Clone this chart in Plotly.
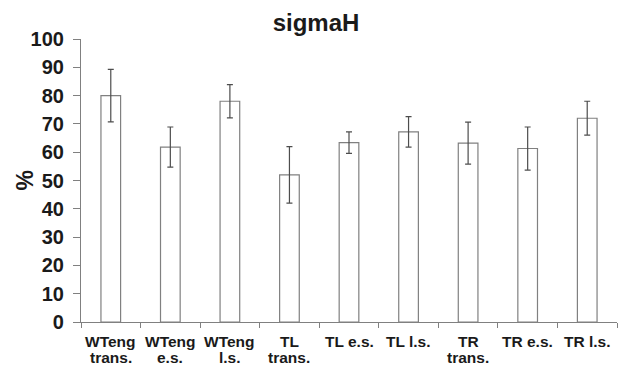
import plotly.graph_objects as go

# Category labels (two-line where the original wraps)
categories = ["WTeng<br>trans.", "WTeng<br>e.s.", "WTeng<br>l.s.", "TL<br>trans.",
              "TL e.s.", "TL l.s.", "TR<br>trans.", "TR e.s.", "TR l.s."]
# Mean percentage per condition
means = [80.0, 61.8, 78.0, 52.0, 63.4, 67.2, 63.2, 61.3, 72.0]
# Standard deviation (symmetric error bars)
errors = [9.3, 7.1, 5.9, 10.0, 3.8, 5.4, 7.4, 7.6, 6.0]
y_ticks = list(range(0, 101, 10))

FONT = "Liberation Sans, Arial, sans-serif"
GRAY = "#808080"
TEXT = "#1a1a1a"

PLOT_TOP, PLOT_BOTTOM = 39, 322
PLOT_H = PLOT_BOTTOM - PLOT_TOP


def paper_y(px):
    """Convert a pixel row (from the top of the page) to paper y."""
    return (PLOT_BOTTOM - px) / PLOT_H


fig = go.Figure(
    go.Bar(
        x=categories,
        y=means,
        marker=dict(color="white", line=dict(color=GRAY, width=1.2)),
        error_y=dict(type="data", array=errors, symmetric=True,
                     color="#4d4d4d", thickness=1.2, width=3),
        width=0.33,
    )
)

# Category labels drawn as tightly spaced lines beneath the axis
label_annotations = []
for cat in categories:
    for i, line in enumerate(cat.split("<br>")):
        label_annotations.append(dict(
            text=line, x=cat, xref="x", yref="paper",
            y=paper_y(341 + 16 * i), xanchor="center", yanchor="middle",
            showarrow=False,
            font=dict(family=FONT, size=15.5, color=TEXT, weight="bold"),
        ))

fig.update_layout(
    width=632,
    height=367,
    margin=dict(l=81, r=15, t=PLOT_TOP, b=367 - PLOT_BOTTOM, autoexpand=False),
    plot_bgcolor="white",
    paper_bgcolor="white",
    showlegend=False,
    title=dict(text="sigmaH", x=0.5, xref="container", xanchor="center",
               y=1 - 23 / 367, yref="container", yanchor="middle",
               font=dict(family=FONT, size=24, color=TEXT, weight="bold")),
    xaxis=dict(
        showline=True, linecolor=GRAY, linewidth=1.2,
        ticks="outside", tickson="boundaries", ticklen=5, tickcolor=GRAY,
        showticklabels=False,
        showgrid=False,
    ),
    yaxis=dict(
        range=[0, 100], tickvals=y_ticks,
        showline=True, linecolor=GRAY, linewidth=1.2,
        ticks="outside", ticklen=7, tickcolor=GRAY,
        tickfont=dict(family=FONT, size=20, color=TEXT, weight="bold"),
        ticklabelstandoff=5,
        showgrid=False, zeroline=False,
    ),
    annotations=label_annotations + [
        dict(text="%", textangle=-90, xref="paper", yref="paper",
             x=(24 - 81) / 536, y=0.5, xanchor="center", yanchor="middle",
             showarrow=False,
             font=dict(family=FONT, size=23, color=TEXT, weight="bold")),
    ],
)

fig.write_html("out.html")
